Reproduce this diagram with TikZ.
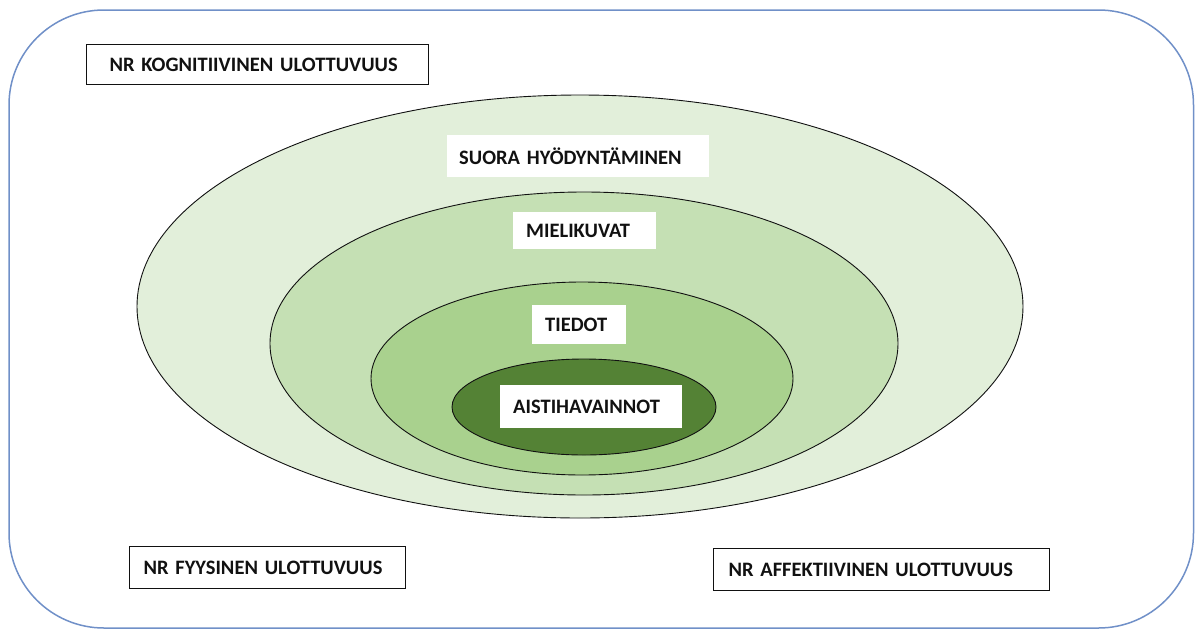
\documentclass[tikz,border=0pt]{standalone}
\usepackage{fontspec}
\setmainfont{Carlito}
\definecolor{frameblue}{HTML}{7090C8}
\definecolor{gA}{HTML}{E2EFDA}
\definecolor{gB}{HTML}{C5E0B4}
\definecolor{gC}{HTML}{A9D18E}
\definecolor{gD}{HTML}{548235}
\definecolor{ink}{HTML}{111111}
\tikzset{
  ring/.style={draw=ink, line width=0.9pt},
  lbl/.style={fill=white, anchor=north west, align=left, inner ysep=0pt,
    font=\fontsize{20.5}{22}\selectfont\bfseries, text=ink},
  boxed/.style={lbl, draw=ink, line width=1pt}
}
\begin{document}
\begin{tikzpicture}[x=1pt,y=-1pt]
\useasboundingbox (0,0) rectangle (1195,630);
% outer frame
\draw[frameblue, line width=1.5pt, rounded corners=95pt] (9,10) rectangle (1193.5,628);
% ellipses
\draw[ring, fill=gA] (580,306.5) ellipse [x radius=443, y radius=211.5];
\draw[ring, fill=gB] (584,343.5) ellipse [x radius=314, y radius=151.5];
\draw[ring, fill=gC] (582,378.5) ellipse [x radius=211, y radius=96.5];
\draw[ring, fill=gD] (584,407) ellipse [x radius=132, y radius=48];
% inner labels
\node[lbl, inner xsep=12pt, text width=238pt, minimum height=42pt] (suora) at (447,135) {SUORA HYÖDYNTÄMINEN};
\node[lbl, inner xsep=13pt, text width=117pt, minimum height=37pt] (mieli) at (513,212) {MIELIKUVAT};
\node[lbl, inner xsep=13pt, text width=68pt, minimum height=39pt] (tiedot) at (532,305) {TIEDOT};
\node[lbl, inner xsep=13pt, text width=156pt, minimum height=43pt] (aisti) at (500,385) {AISTIHAVAINNOT};
% outer boxed labels
\node[boxed, inner xsep=23pt, text width=296pt, minimum height=40pt] (kogn) at (86,44) {NR KOGNITIIVINEN ULOTTUVUUS};
\node[boxed, inner xsep=14pt, text width=248pt, minimum height=42pt] (fyys) at (129,546) {NR FYYSINEN ULOTTUVUUS};
\node[boxed, inner xsep=15pt, text width=306pt, minimum height=42pt] (affe) at (713,548) {NR AFFEKTIIVINEN ULOTTUVUUS};
\end{tikzpicture}
\end{document}
